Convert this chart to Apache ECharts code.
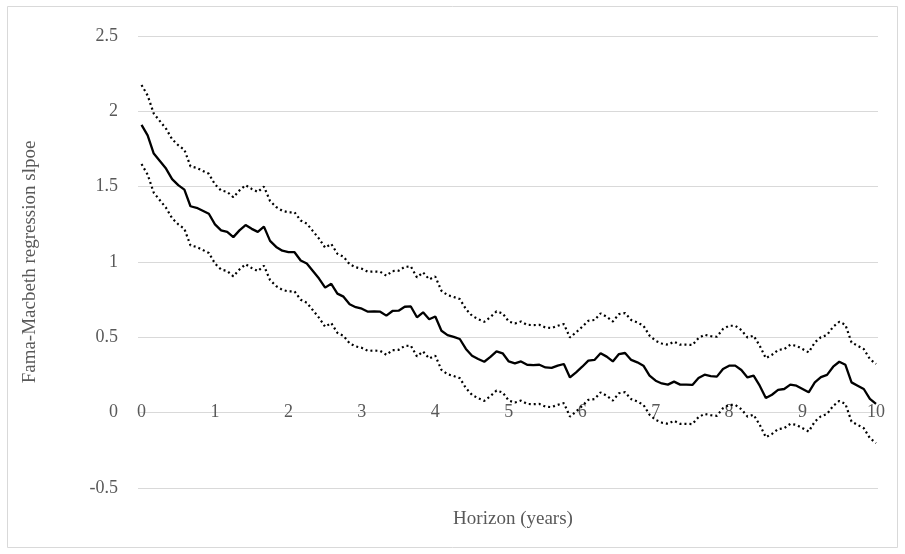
<!DOCTYPE html>
<html>
<head>
<meta charset="utf-8">
<script src="https://cdn.jsdelivr.net/npm/echarts@6/dist/echarts.min.js"></script>
<style>
html,body{margin:0;padding:0;background:#fff;}
#c{width:905px;height:554px;}
</style>
</head>
<body>
<div id="c"></div>
<script>
// Monthly horizon points (0..120 months), values of the Fama-Macbeth slope
const xTicks = [0,1,2,3,4,5,6,7,8,9,10];
const yTicks = ['-0.5','0','0.5','1','1.5','2','2.5'];
const slope = [
1.91,1.84,1.72,1.67,1.62,1.55,1.51,1.48,1.37,1.36,1.34,1.32,
1.25,1.21,1.20,1.165,1.21,1.245,1.22,1.20,1.235,1.14,1.10,1.075,
1.065,1.065,1.01,0.99,0.94,0.89,0.83,0.855,0.79,0.77,0.72,0.70,
0.69,0.67,0.672,0.67,0.644,0.675,0.677,0.703,0.705,0.633,0.666,0.62,
0.638,0.544,0.515,0.503,0.489,0.423,0.378,0.356,0.338,0.37,0.407,0.394,
0.34,0.327,0.34,0.318,0.316,0.318,0.30,0.297,0.312,0.323,0.234,0.268,
0.305,0.345,0.35,0.394,0.372,0.34,0.389,0.396,0.35,0.334,0.312,0.246,
0.212,0.194,0.186,0.206,0.186,0.186,0.184,0.23,0.252,0.243,0.239,0.29,
0.312,0.312,0.283,0.234,0.246,0.179,0.097,0.119,0.151,0.157,0.186,0.179,
0.157,0.135,0.201,0.236,0.251,0.305,0.338,0.318,0.201,0.179,0.157,0.091,
0.058];
const upper = [
2.175,2.105,1.985,1.935,1.885,1.815,1.775,1.745,1.635,1.625,1.605,1.585,
1.515,1.475,1.465,1.43,1.475,1.51,1.485,1.465,1.50,1.405,1.365,1.34,
1.33,1.33,1.275,1.255,1.205,1.155,1.095,1.12,1.055,1.035,0.985,0.965,
0.955,0.935,0.937,0.935,0.909,0.94,0.942,0.968,0.97,0.898,0.931,0.885,
0.903,0.809,0.78,0.768,0.754,0.688,0.643,0.621,0.603,0.635,0.672,0.659,
0.605,0.592,0.605,0.583,0.581,0.583,0.565,0.562,0.577,0.588,0.499,0.533,
0.57,0.61,0.615,0.659,0.637,0.605,0.654,0.661,0.615,0.599,0.577,0.511,
0.477,0.459,0.451,0.471,0.451,0.451,0.449,0.495,0.517,0.508,0.504,0.555,
0.577,0.577,0.548,0.499,0.511,0.444,0.362,0.384,0.416,0.422,0.451,0.444,
0.422,0.40,0.466,0.501,0.516,0.57,0.603,0.583,0.466,0.444,0.422,0.356,
0.323];
const lower = [
1.65,1.58,1.46,1.41,1.36,1.29,1.25,1.22,1.11,1.10,1.08,1.06,
0.99,0.95,0.94,0.905,0.95,0.985,0.96,0.94,0.975,0.88,0.84,0.815,
0.805,0.805,0.75,0.73,0.68,0.63,0.57,0.595,0.53,0.51,0.46,0.44,
0.43,0.41,0.412,0.41,0.384,0.415,0.417,0.443,0.445,0.373,0.406,0.36,
0.378,0.284,0.255,0.243,0.229,0.163,0.118,0.096,0.078,0.11,0.147,0.134,
0.08,0.067,0.08,0.058,0.056,0.058,0.04,0.037,0.052,0.063,-0.026,0.008,
0.045,0.085,0.09,0.134,0.112,0.08,0.129,0.136,0.09,0.074,0.052,-0.014,
-0.048,-0.066,-0.074,-0.054,-0.074,-0.074,-0.076,-0.03,-0.008,-0.017,-0.021,0.03,
0.052,0.052,0.023,-0.026,-0.014,-0.081,-0.163,-0.141,-0.109,-0.103,-0.074,-0.081,
-0.103,-0.125,-0.059,-0.024,-0.009,0.045,0.078,0.058,-0.059,-0.081,-0.103,-0.169,
-0.202];

const toPairs = arr => arr.map((v, i) => [i / 12, v]);
const FONT = '"Liberation Serif","Times New Roman",serif';
const GRAY = '#595959';

const chart = echarts.init(document.getElementById('c'), null, {renderer: 'canvas'});
chart.setOption({
  backgroundColor: '#fff',
  animation: false,
  grid: {left: 138, right: 27, top: 36, bottom: 66, containLabel: false},
  xAxis: {
    type: 'value',
    min: -0.048, max: 10.027,
    offset: -75.6,
    axisLine: {show: false, onZero: false},
    axisTick: {show: false},
    splitLine: {show: false},
    axisLabel: {
      customValues: xTicks,
      color: GRAY, fontFamily: FONT, fontSize: 18,
      margin: 0, verticalAlign: 'middle'
    }
  },
  yAxis: {
    type: 'value',
    min: -0.5, max: 2.5, interval: 0.5,
    axisLine: {show: false},
    axisTick: {show: false},
    splitLine: {show: true, lineStyle: {color: '#d9d9d9', width: 1}},
    axisLabel: {
      color: GRAY, fontFamily: FONT, fontSize: 18, margin: 20,
      formatter: v => yTicks.find(t => Math.abs(parseFloat(t) - v) < 1e-9) || ''
    },
    name: 'Fama-Macbeth regression slpoe',
    nameLocation: 'middle',
    nameGap: 98,
    nameTextStyle: {color: GRAY, fontFamily: FONT, fontSize: 19}
  },
  title: {
    text: 'Horizon (years)',
    left: 508, top: 505,
    textAlign: 'center',
    textStyle: {color: GRAY, fontFamily: FONT, fontSize: 19, fontWeight: 'normal'}
  },
  graphic: [{
    type: 'rect', silent: true, z: -1,
    shape: {x: 7.5, y: 6.5, width: 890, height: 541},
    style: {fill: 'none', stroke: '#d9d9d9', lineWidth: 1}
  }],
  series: [
    {type: 'line', data: toPairs(upper), showSymbol: false, symbol: 'none',
     lineStyle: {color: '#000', width: 2.2, type: [2, 3]}},
    {type: 'line', data: toPairs(lower), showSymbol: false, symbol: 'none',
     lineStyle: {color: '#000', width: 2.2, type: [2, 3]}},
    {type: 'line', data: toPairs(slope), showSymbol: false, symbol: 'none',
     lineStyle: {color: '#000', width: 2.3}}
  ]
});
</script>
</body>
</html>
